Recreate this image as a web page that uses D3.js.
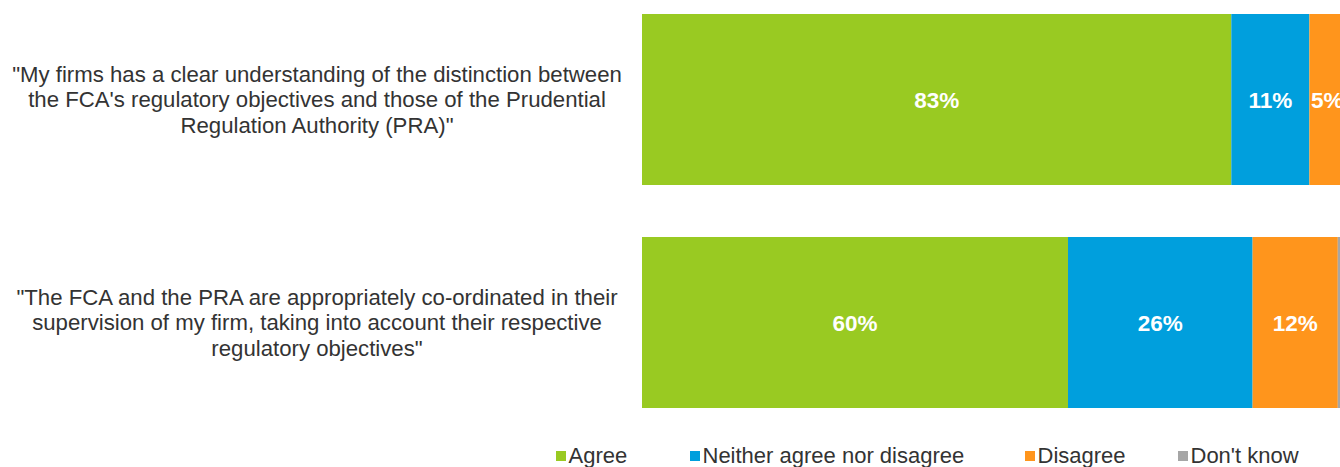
<!DOCTYPE html>
<html><head><meta charset="utf-8">
<script src="https://cdn.jsdelivr.net/npm/d3@7"></script>
<style>html,body{margin:0;padding:0;background:#fff;overflow:hidden}</style>
</head><body>
<svg id="c" width="1340" height="467"></svg>
<script>
const categories = [
  ["\"My firms has a clear understanding of the distinction between", "the FCA's regulatory objectives and those of the Prudential", "Regulation Authority (PRA)\""],
  ["\"The FCA and the PRA are appropriately co-ordinated in their", "supervision of my firm, taking into account their respective", "regulatory objectives\""]
];
const seriesNames = ["Agree", "Neither agree nor disagree", "Disagree", "Don't know"];
const agree = [83, 60];
const neither = [11, 26];
const disagree = [5, 12];
const dontKnow = [1, 2];
const colors = ["#99CA22", "#009FDD", "#FF951C", "#A6A6A6"];

const FONT = "Liberation Sans, Arial, sans-serif";
const svg = d3.select("#c");
const x = d3.scaleLinear().domain([0, 100]).range([642, 1352]);
const y = d3.scaleBand().domain([0, 1]).range([14, 408]).paddingInner(52 / 223).paddingOuter(0);

const stackData = [0, 1].map(i => ({i, Agree: agree[i], "Neither agree nor disagree": neither[i], Disagree: disagree[i], "Don't know": dontKnow[i]}));
const stack = d3.stack().keys(seriesNames)(stackData);

stack.forEach((layer, k) => {
  const g = svg.append("g");
  g.selectAll("rect").data(layer).enter().append("rect")
    .attr("x", d => x(d[0])).attr("width", d => x(d[1]) - x(d[0]))
    .attr("y", d => y(d.data.i)).attr("height", y.bandwidth())
    .attr("fill", colors[k]);
  if (k < 3) {
    g.selectAll("text").data(layer).enter().append("text")
      .attr("x", d => (x(d[0]) + x(d[1])) / 2)
      .attr("y", d => y(d.data.i) + y.bandwidth() / 2)
      .attr("dy", "0.36em")
      .attr("text-anchor", "middle")
      .attr("fill", "#fff")
      .attr("font-family", FONT)
      .attr("font-weight", "bold")
      .attr("font-size", 22.5)
      .text(d => (d[1] - d[0]) + "%");
  }
});

// category labels
categories.forEach((lines, i) => {
  const cy = y(i) + y.bandwidth() / 2;
  const t = svg.append("text")
    .attr("text-anchor", "middle")
    .attr("font-family", FONT)
    .attr("font-size", 22.2)
    .attr("fill", "#333");
  lines.forEach((ln, j) => {
    t.append("tspan").attr("x", 317).attr("y", cy + (j - 1) * 25.5).attr("dy", "0.36em").text(ln);
  });
});

// legend
const legX = [556, 690, 1025, 1178];
const lg = svg.append("g");
seriesNames.forEach((n, k) => {
  lg.append("rect").attr("x", legX[k]).attr("y", 451).attr("width", 10).attr("height", 10).attr("fill", colors[k]);
  lg.append("text").attr("x", legX[k] + 12.5).attr("y", 463)
    .attr("font-family", FONT).attr("font-size", 22).attr("fill", "#333").text(n);
});
</script>
</body></html>
